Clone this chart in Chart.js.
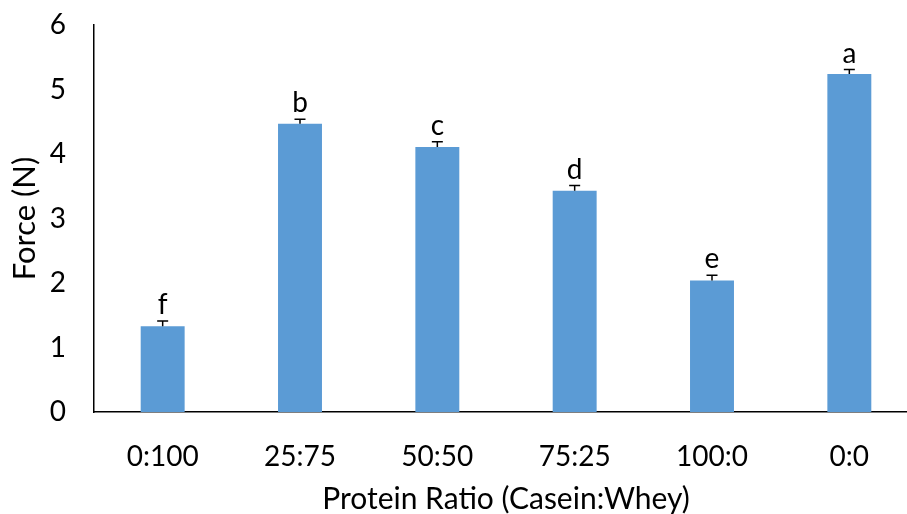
<!DOCTYPE html>
<html><head><meta charset="utf-8">
<script src="https://cdn.jsdelivr.net/npm/chart.js@4"></script>
<style>html,body{margin:0;padding:0;overflow:hidden;background:#fff}#wrap{width:918px;height:514px;position:relative}</style>
</head><body><div id="wrap"><canvas id="c"></canvas></div>
<script>
const categories = ["0:100","25:75","50:50","75:25","100:0","0:0"];
const forceValues = [1.33, 4.47, 4.11, 3.43, 2.04, 5.24];
const errorValues = [0.08, 0.07, 0.08, 0.08, 0.08, 0.07];
const letters = ["f","b","c","d","e","a"];
const yTicks = [0,1,2,3,4,5,6];

const FONT = "Lato";
const errPlugin = {
  id:'errbars',
  afterDatasetsDraw(chart){
    const ctx = chart.ctx, ys = chart.scales.y, meta = chart.getDatasetMeta(0);
    ctx.save();
    ctx.strokeStyle = '#000'; ctx.lineWidth = 1.5;
    ctx.fillStyle = '#000';
    ctx.font = '28px ' + FONT;
    ctx.textAlign = 'center'; ctx.textBaseline = 'alphabetic';
    meta.data.forEach((bar,i)=>{
      const x = bar.x;
      const y0 = ys.getPixelForValue(forceValues[i]);
      const y1 = ys.getPixelForValue(forceValues[i]+errorValues[i]);
      ctx.beginPath();
      ctx.moveTo(x,y0); ctx.lineTo(x,y1);
      ctx.moveTo(x-5.5,y1); ctx.lineTo(x+5.5,y1);
      ctx.stroke();
      ctx.fillText(letters[i], x, y1-7);
    });
    ctx.restore();
  }
};

new Chart(document.getElementById('c'), {
  type:'bar',
  data:{labels:categories, datasets:[{data:forceValues, backgroundColor:'#5B9BD5', categoryPercentage:1, barPercentage:0.32}]},
  options:{
    responsive:true, maintainAspectRatio:false, animation:false,
    layout:{padding:{top:25,left:0,right:0,bottom:0}},
    plugins:{legend:{display:false}, tooltip:{enabled:false}},
    scales:{
      x:{
        grid:{display:false, drawTicks:false},
        border:{display:true, color:'#000', width:1.5},
        ticks:{color:'#000', font:{family:FONT, size:28}, padding:28, maxRotation:0},
        title:{display:true, text:'Protein Ratio (Casein:Whey)', color:'#000', font:{family:FONT, size:30}, padding:{top:0,bottom:-3}},
        afterFit(s){ s.height = 102; s.paddingLeft = 0; s.paddingRight = 0; }
      },
      y:{
        min:0, max:6,
        grid:{display:false, drawTicks:false},
        border:{display:true, color:'#000', width:1.5},
        afterBuildTicks(s){ s.ticks = yTicks.map(v=>({value:v})); },
        ticks:{color:'#000', font:{family:FONT, size:28}, padding:28},
        title:{display:true, text:'Force (N)', color:'#000', font:{family:FONT, size:31}, padding:{top:6,bottom:0}},
        afterFit(s){ s.width = 94; s.paddingTop = 0; s.paddingBottom = 0; }
      }
    }
  },
  plugins:[errPlugin]
});
</script></body></html>
